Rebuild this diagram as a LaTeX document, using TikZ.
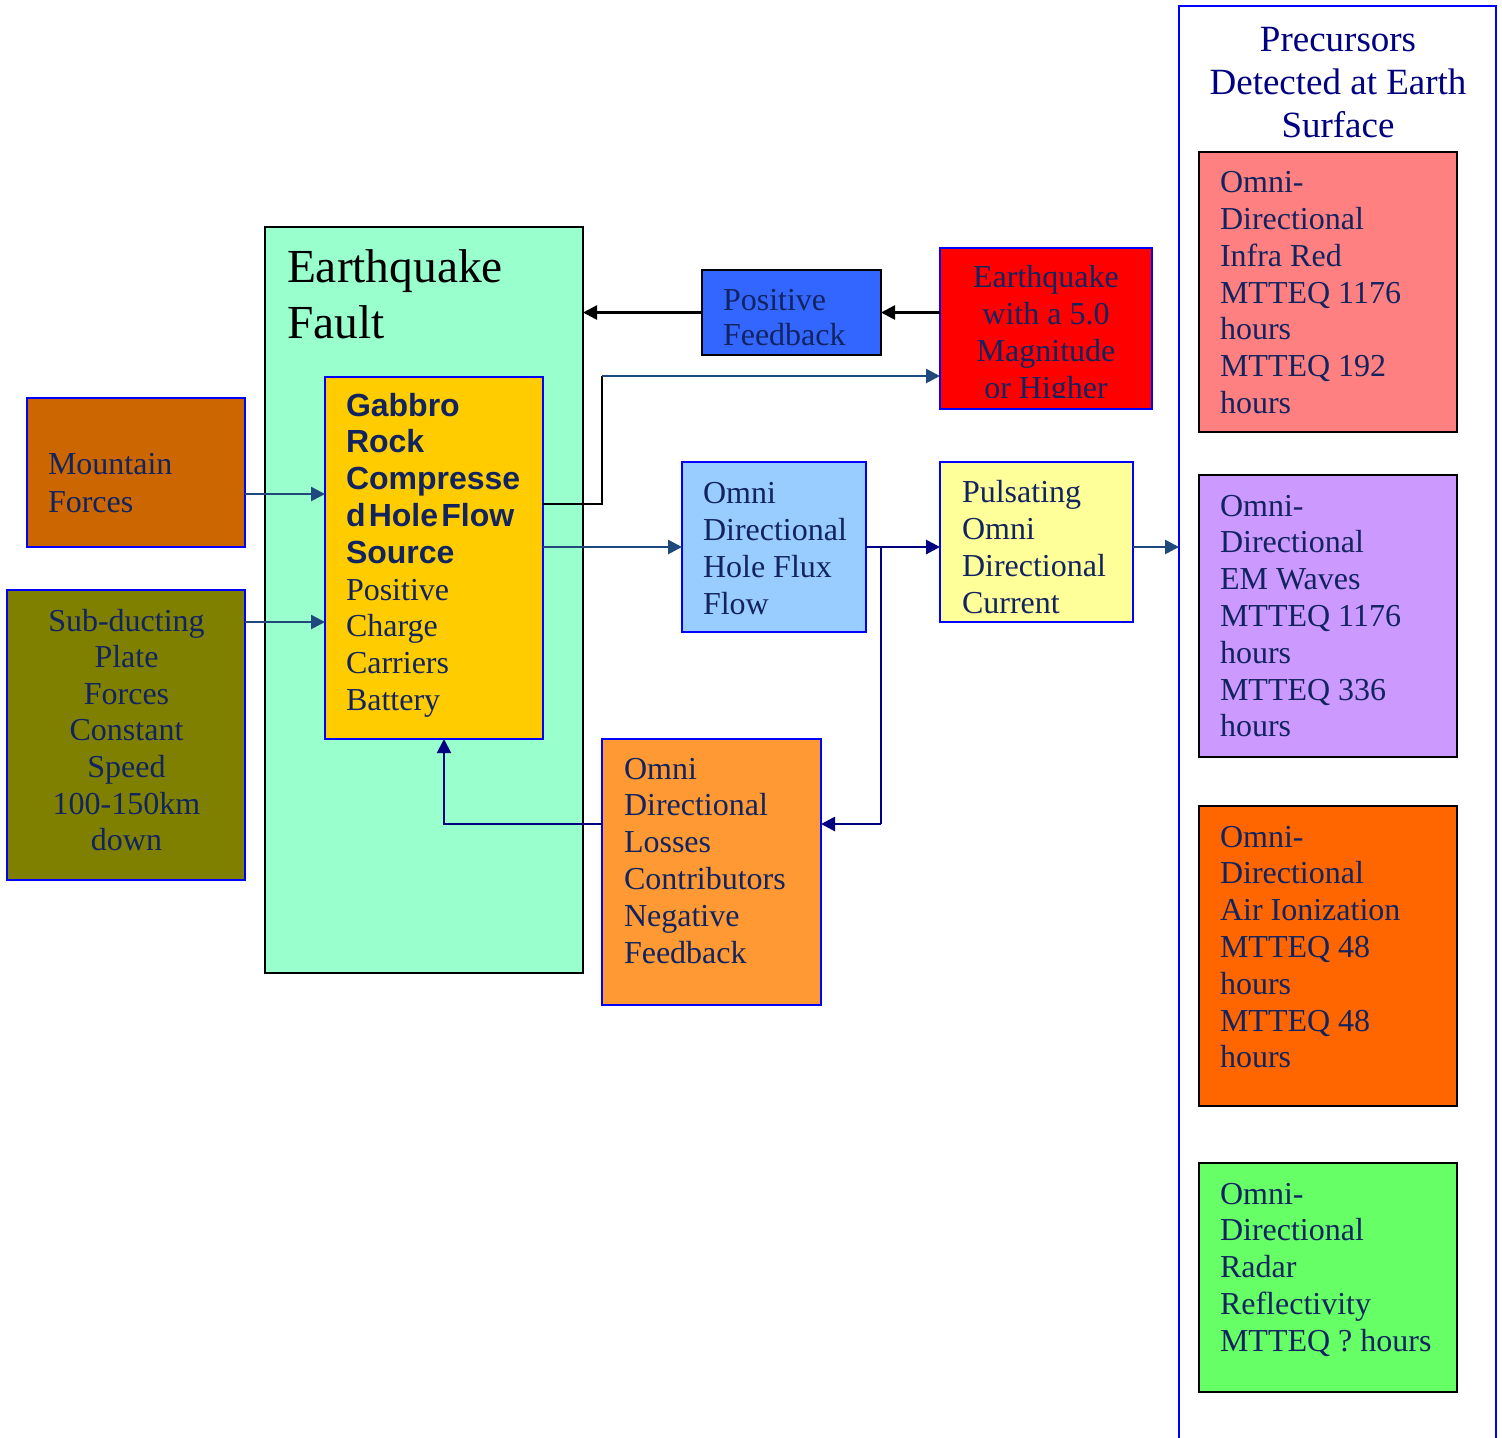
\documentclass[tikz,border=0pt]{standalone}
\usepackage{fontspec}
\setmainfont{Liberation Serif}
\newfontfamily\gabsans{Liberation Sans}
\usetikzlibrary{arrows.meta,fit}
\definecolor{faultc}{RGB}{153,255,204}
\definecolor{gabc}{RGB}{255,204,0}
\definecolor{pfbc}{RGB}{51,102,255}
\definecolor{eqc}{RGB}{255,0,0}
\definecolor{mtnc}{RGB}{204,102,0}
\definecolor{subc}{RGB}{128,128,0}
\definecolor{hfc}{RGB}{153,204,255}
\definecolor{pulc}{RGB}{255,255,153}
\definecolor{losc}{RGB}{255,153,51}
\definecolor{irc}{RGB}{255,128,128}
\definecolor{emc}{RGB}{204,153,255}
\definecolor{airc}{RGB}{255,102,0}
\definecolor{radc}{RGB}{102,255,102}
\definecolor{txtnavy}{RGB}{18,36,96}
\definecolor{navyc}{RGB}{0,0,128}
\definecolor{steelc}{RGB}{31,73,125}
\definecolor{bluec}{RGB}{0,0,255}
\newcommand\topst{\rule{0pt}{30pt}}
\newcommand\gsb{\gabsans\bfseries}
\tikzset{
  bluebox/.style={draw=bluec, line width=1pt, inner sep=0pt, outer sep=0pt},
  blackbox/.style={draw=black, line width=1pt, inner sep=0pt, outer sep=0pt},
  txt/.style={inner sep=0pt, outer sep=0pt, anchor=north west, align=left, text=txtnavy,
    font=\fontsize{16pt}{18.4pt}\selectfont},
  tip/.style={-{Triangle[length=7pt,width=7pt]}},
  sarrow/.style={draw=steelc, line width=1.3pt, tip},
  narrow/.style={draw=navyc, line width=1.4pt, tip},
  karrow/.style={draw=black, line width=1.3pt, tip}
}
\begin{document}
\begin{tikzpicture}[x=0.5pt,y=-0.5pt]
\useasboundingbox (0,0) rectangle (1502,1437);
% boxes
\node (fault) [blackbox, fill=faultc, fit={(265,227) (583,973)}] {};
\node (gab) [bluebox, fill=gabc, fit={(325,377) (543,739)}] {};
\node (pfb) [blackbox, fill=pfbc, fit={(702,270) (881,355)}] {};
\node (eq) [bluebox, fill=eqc, fit={(940,248) (1152,409)}] {};
\node (mtn) [bluebox, fill=mtnc, fit={(27,398) (245,547)}] {};
\node (sub) [bluebox, fill=subc, fit={(7,590) (245,880)}] {};
\node (hf) [bluebox, fill=hfc, fit={(682,462) (866,632)}] {};
\node (pul) [bluebox, fill=pulc, fit={(940,462) (1133,622)}] {};
\node (los) [bluebox, fill=losc, fit={(602,739) (821,1005)}] {};
\node (pre) [bluebox, line width=1.2pt, fill=white, fit={(1179,6) (1496,1442)}] {};
\node (ir) [blackbox, fill=irc, fit={(1199,152) (1457,432)}] {};
\node (em) [blackbox, fill=emc, fit={(1199,475) (1457,757)}] {};
\node (air) [blackbox, fill=airc, fit={(1199,806) (1457,1106)}] {};
\node (rad) [blackbox, fill=radc, fit={(1199,1163) (1457,1392)}] {};
% texts
\node (faultT) [txt, text=black, font=\fontsize{23.7pt}{27.75pt}\selectfont] at (287,222.7)
  {\topst Earthquake\\Fault};
\node (gabT) [txt] at (346,356)
  {\topst\gsb Gabbro\\\gsb Rock\\\gsb Compresse\\\gsb d\hspace{1.6pt}Hole\hspace{1.6pt}Flow\\\gsb Source\\Positive\\Charge\\Carriers\\Battery};
\node (pfbT) [txt, font=\fontsize{16pt}{17.5pt}\selectfont] at (723,250) {\topst Positive\\Feedback};
\begin{scope}
\clip (940,248) rectangle (1152,397);
\node (eqT) [txt, anchor=north, align=center, font=\fontsize{16pt}{18.5pt}\selectfont] at (1046,227.7)
  {\topst Earthquake\\with a 5.0\\Magnitude\\or Higher};
\end{scope}
\node (mtnT) [txt, font=\fontsize{16pt}{19pt}\selectfont] at (48,414) {\topst Mountain\\Forces};
\node (subT) [txt, anchor=north, align=center, font=\fontsize{16pt}{18.3pt}\selectfont] at (126.5,571)
  {\topst Sub-ducting\\Plate\\Forces\\Constant\\Speed\\100-150km\\down};
\node (hfT) [txt] at (703,443.7) {\topst Omni\\Directional\\Hole Flux\\Flow};
\node (pulT) [txt] at (962,442.7) {\topst Pulsating\\Omni\\Directional\\Current};
\node (losT) [txt] at (624,719) {\topst Omni\\Directional\\Losses\\Contributors\\Negative\\Feedback};
\node (preT) [txt, anchor=north, align=center, text=navyc, font=\fontsize{18.5pt}{21.5pt}\selectfont] at (1338,-8.3)
  {\topst Precursors\\Detected at Earth\\Surface};
\node (irT) [txt] at (1220,132.7) {\topst Omni-\\Directional\\Infra Red\\MTTEQ 1176\\hours\\MTTEQ 192\\hours};
\node (emT) [txt] at (1220,456) {\topst Omni-\\Directional\\EM Waves\\MTTEQ 1176\\hours\\MTTEQ 336\\hours};
\node (airT) [txt] at (1220,787) {\topst Omni-\\Directional\\Air Ionization\\MTTEQ 48\\hours\\MTTEQ 48\\hours};
\node (radT) [txt] at (1220,1144) {\topst Omni-\\Directional\\Radar\\Reflectivity\\MTTEQ ? hours};
% connectors
\draw[karrow] (eq.west |- pfb.east) -- (pfb.east);
\draw[karrow] (pfb.west) -- (pfb.west -| fault.east);
\coordinate (j1) at (602,504);
\coordinate (j2) at (602,376);
\draw[black, line width=0.9pt] (j1 -| gab.east) -- (j1) -- (j2);
\draw[sarrow] (j2) -- (j2 -| eq.west);
\coordinate (j3) at (700,547);
\draw[sarrow] (j3 -| gab.east) -- (j3 -| hf.west);
\draw[narrow] (j3 -| hf.east) -- (j3 -| pul.west);
\coordinate (j4) at (881,547);
\coordinate (j5) at (881,824);
\draw[navyc, line width=1pt] (j4) -- (j5);
\draw[narrow] (j5) -- (j5 -| los.east);
\coordinate (j6) at (444,824);
\draw[narrow, line width=1pt] (j5 -| los.west) -- (j6) -- (j6 |- gab.south);
\draw[sarrow] (j3 -| pul.east) -- (j3 -| pre.west);
\coordinate (j7) at (100,494);
\draw[sarrow] (j7 -| mtn.east) -- (j7 -| gab.west);
\coordinate (j8) at (100,622);
\draw[sarrow] (j8 -| sub.east) -- (j8 -| gab.west);
\end{tikzpicture}
\end{document}
